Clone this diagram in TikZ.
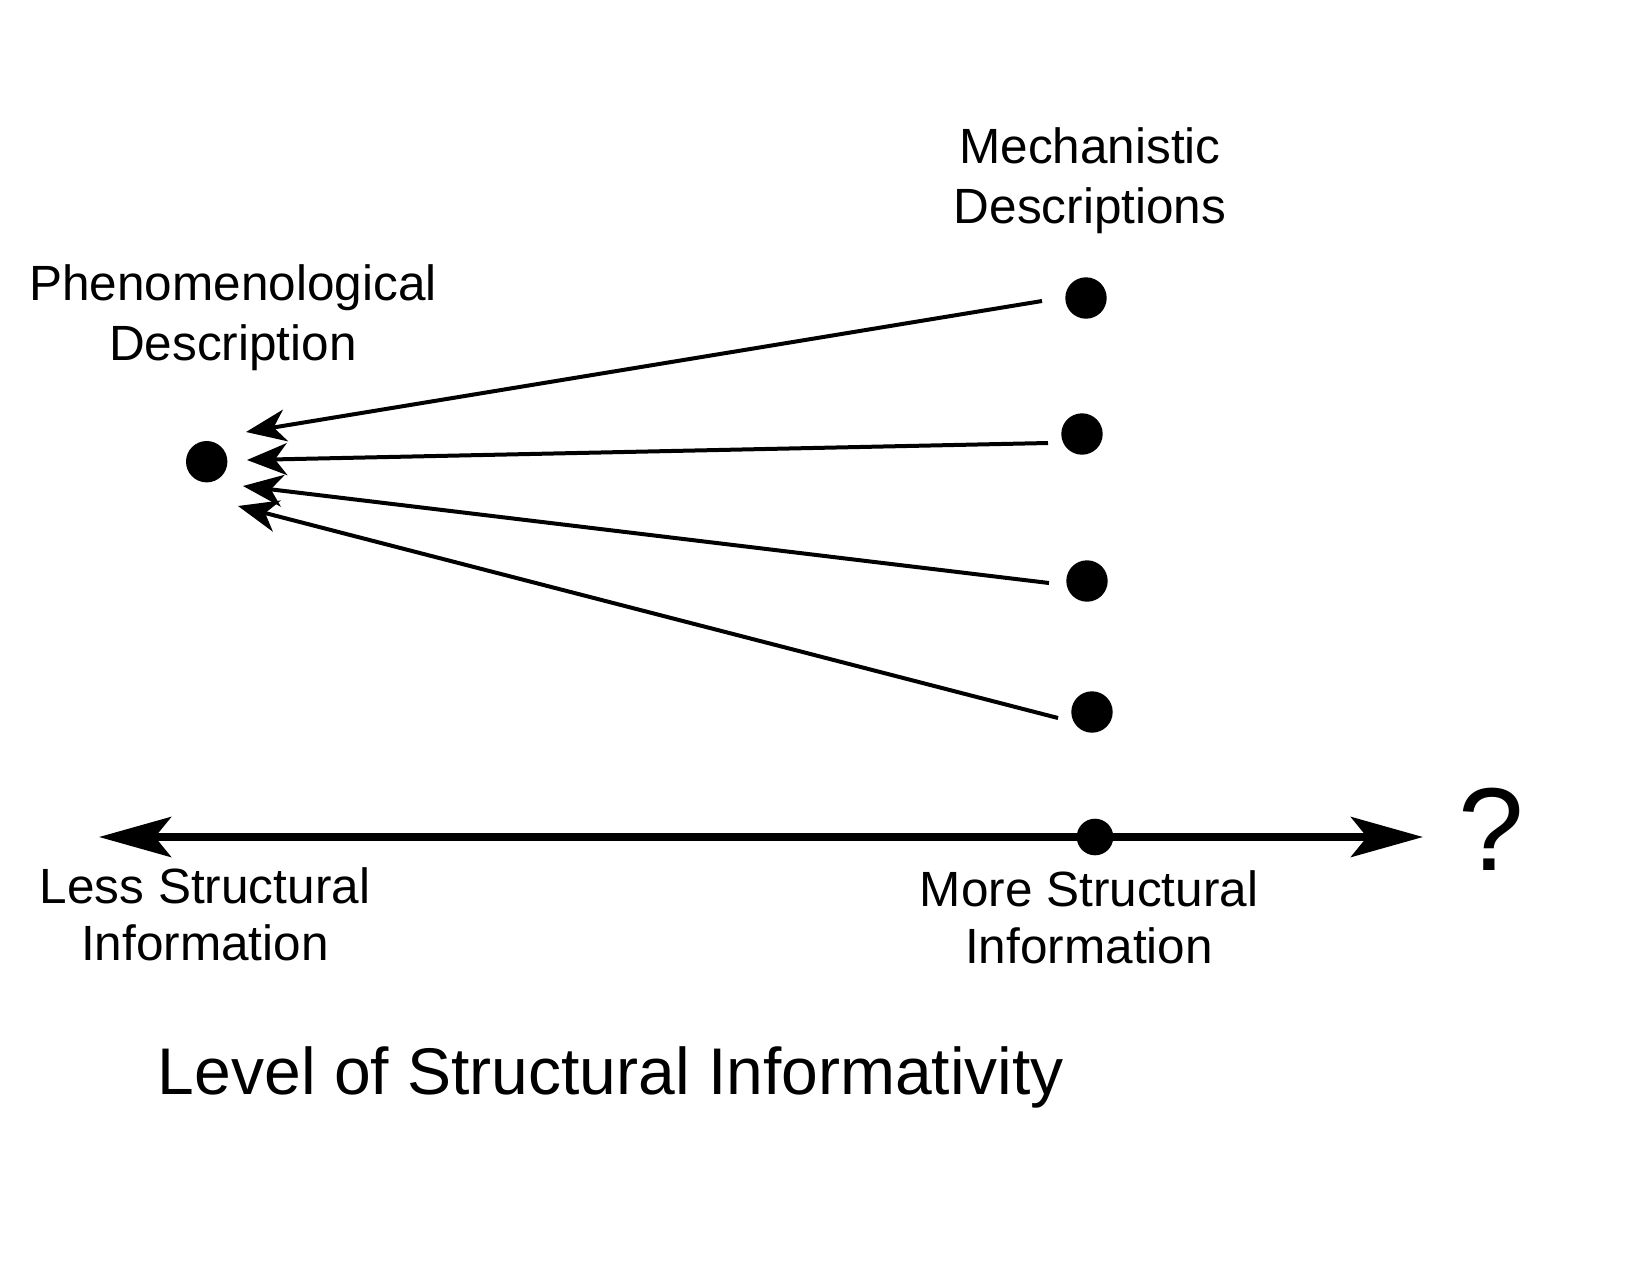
\documentclass[tikz,border=0pt]{standalone}
\usepackage{fontspec}
\setmainfont{Liberation Sans}
\usetikzlibrary{arrows.meta}
\begin{document}
\begin{tikzpicture}[x=1pt,y=-1pt,
  dot/.style={circle,fill=black,inner sep=0pt,minimum size=41.4pt},
  axdot/.style={circle,fill=black,inner sep=0pt,minimum size=36.6pt},
  lbl/.style={font=\fontsize{49.5}{60}\selectfont,align=center,anchor=base,inner sep=0pt},
  lblb/.style={font=\fontsize{49.5}{57}\selectfont,align=center,anchor=base,inner sep=0pt},
  conn/.style={line width=4pt,-{Stealth[length=40pt,width=32pt,inset=12pt]}},
  axisline/.style={line width=7.5pt,{Stealth[length=72pt,width=40pt,inset=16pt]}-{Stealth[length=72pt,width=40pt,inset=16pt]}}]
\useasboundingbox (0,0) rectangle (1650,1275);

% dots
\node[dot] (p)  at (206.7,461.7) {};
\node[dot] (m1) at (1086,298) {};
\node[dot] (m2) at (1082,434) {};
\node[dot] (m3) at (1087,581) {};
\node[dot] (m4) at (1092,712) {};

% connector ends
\coordinate (s1) at (1042,301); \coordinate (t1) at (246,432);
\coordinate (s2) at (1048,443); \coordinate (t2) at (247,460);
\coordinate (s3) at (1049,583); \coordinate (t3) at (243,486);
\coordinate (s4) at (1058,718); \coordinate (t4) at (238,506);
\draw[conn] (s1) -- (t1);
\draw[conn] (s2) -- (t2);
\draw[conn] (s3) -- (t3);
\draw[conn] (s4) -- (t4);

% axis
\coordinate (axl) at (99,837);
\coordinate (axr) at (1423,837);
\draw[axisline] (axl) -- (axr);
\node[axdot] (ad) at (1095,837) {};

% labels (anchor = baseline of the last line)
\node[lbl] (phen) at (233,360) {Phenomenological\\Description};
\node[lbl] (mech) at (1090,223) {Mechanistic\\Descriptions};
\node[lblb] (less) at (205,960) {Less Structural\\Information};
\node[lblb] (more) at (1089,963) {More Structural\\Information};
\node[font=\fontsize{66}{78}\selectfont,anchor=base,inner sep=0pt] (level) at (611,1094) {Level of Structural Informativity};
\node[font=\fontsize{118}{130}\selectfont,anchor=base,inner sep=0pt] (q) at (1491,870) {?};
\end{tikzpicture}
\end{document}
